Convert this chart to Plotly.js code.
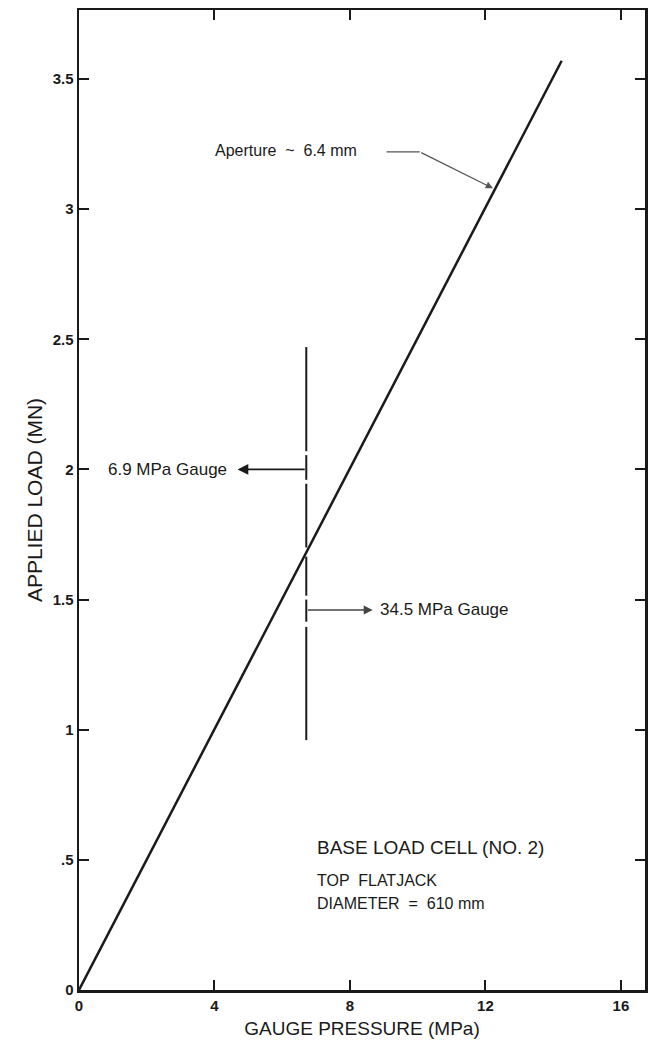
<!DOCTYPE html>
<html><head><meta charset="utf-8">
<script src="https://cdn.plot.ly/plotly-3.0.1.min.js"></script>
<style>html,body{margin:0;padding:0;background:#fff}#chart{width:650px;height:1049px}</style>
</head><body><div id="chart"></div>
<script>
// Calibration line (gauge pressure MPa vs applied load MN)
const pressure = [0, 14.25];
const load = [0, 3.57];
// Gauge switch-over marker (vertical line, broken at arrows/crossing)
const markerX = [6.71, 6.71, null, 6.71, 6.71, null, 6.71, 6.71, null, 6.71, 6.71, null, 6.71, 6.71, null, 6.71, 6.71];
const markerY = [2.47, 2.07, null, 2.055, 1.96, null, 1.945, 1.70, null, 1.665, 1.515, null, 1.50, 1.415, null, 1.395, 0.96];
// Aperture leader horizontal piece
const leaderX = [9.08, 10.06];
const leaderY = [3.22, 3.22];
const xTicks = [0, 4, 8, 12, 16];
const yTicks = [0, 0.5, 1, 1.5, 2, 2.5, 3, 3.5];
const yTickText = ['0', '.5', '1', '1.5', '2', '2.5', '3', '3.5'];

const FONT = 'Liberation Sans, Arial, Helvetica, sans-serif';
const INK = '#1a1a1a';
const LBL = 17;

const traces = [
  {x: pressure, y: load, mode: 'lines', line: {color: INK, width: 2.5}, hoverinfo: 'skip'},
  {x: markerX, y: markerY, mode: 'lines', line: {color: INK, width: 2}, connectgaps: false, hoverinfo: 'skip'},
  {x: leaderX, y: leaderY, mode: 'lines', line: {color: '#555', width: 1.2}, hoverinfo: 'skip'}
];

const layout = {
  width: 650, height: 1049,
  margin: {l: 79, r: 5, t: 10, b: 59},
  paper_bgcolor: '#fff', plot_bgcolor: '#fff',
  showlegend: false,
  font: {family: FONT, color: INK},
  xaxis: {
    range: [0, 16.71], tickvals: xTicks, ticktext: xTicks.map(String),
    ticks: 'inside', ticklen: 10, tickwidth: 2, tickcolor: INK,
    showline: true, linewidth: 2.5, linecolor: INK, mirror: 'ticks',
    showgrid: false, zeroline: false,
    tickfont: {family: FONT, size: 15, color: INK, weight: 'bold'},
    title: {text: 'GAUGE PRESSURE (MPa)', font: {family: FONT, size: 19, color: INK}, standoff: 9}
  },
  yaxis: {
    range: [0, 3.765], tickvals: yTicks, ticktext: yTickText,
    ticks: 'inside', ticklen: 10, tickwidth: 2, tickcolor: INK,
    showline: true, linewidth: 2.5, linecolor: INK, mirror: 'ticks',
    showgrid: false, zeroline: false,
    tickfont: {family: FONT, size: 15, color: INK, weight: 'bold'},
    title: {text: 'APPLIED LOAD (MN)', font: {family: FONT, size: 21, color: INK}, standoff: 5}
  },
  annotations: [
    {x: 4.68, y: 2.0, ax: 6.71, ay: 2.0, axref: 'x', ayref: 'y', xref: 'x', yref: 'y',
     text: '', showarrow: true, arrowhead: 2, arrowsize: 1.2, arrowwidth: 1.8, arrowcolor: INK},
    {x: 4.44, y: 2.0, xref: 'x', yref: 'y', xanchor: 'right', yanchor: 'middle', showarrow: false,
     text: '6.9 MPa Gauge', font: {family: FONT, size: LBL, color: INK}},
    {x: 8.67, y: 1.46, ax: 6.71, ay: 1.46, axref: 'x', ayref: 'y', xref: 'x', yref: 'y',
     text: '', showarrow: true, arrowhead: 2, arrowsize: 1.2, arrowwidth: 1.5, arrowcolor: '#444'},
    {x: 8.82, y: 1.46, xref: 'x', yref: 'y', xanchor: 'left', yanchor: 'middle', showarrow: false,
     text: '34.5 MPa Gauge', font: {family: FONT, size: LBL, color: INK}},
    {x: 3.97, y: 3.225, xref: 'x', yref: 'y', xanchor: 'left', yanchor: 'middle', showarrow: false,
     text: 'Aperture  ~  6.4 mm', font: {family: FONT, size: 16, color: INK}},
    {x: 12.22, y: 3.08, ax: 10.06, ay: 3.22, axref: 'x', ayref: 'y', xref: 'x', yref: 'y',
     text: '', showarrow: true, arrowhead: 2, arrowsize: 1.2, arrowwidth: 1.2, arrowcolor: '#555'},
    {x: 6.96, y: 0.547, xref: 'x', yref: 'y', xanchor: 'left', yanchor: 'middle', showarrow: false,
     text: 'BASE LOAD CELL (NO. 2)', font: {family: FONT, size: 19, color: INK}},
    {x: 6.96, y: 0.42, xref: 'x', yref: 'y', xanchor: 'left', yanchor: 'middle', showarrow: false,
     text: 'TOP  FLATJACK', font: {family: FONT, size: 16, color: INK}},
    {x: 6.96, y: 0.332, xref: 'x', yref: 'y', xanchor: 'left', yanchor: 'middle', showarrow: false,
     text: 'DIAMETER  =  610 mm', font: {family: FONT, size: 16, color: INK}}
  ]
};

Plotly.newPlot('chart', traces, layout, {displayModeBar: false, staticPlot: true});
</script>
</body></html>
